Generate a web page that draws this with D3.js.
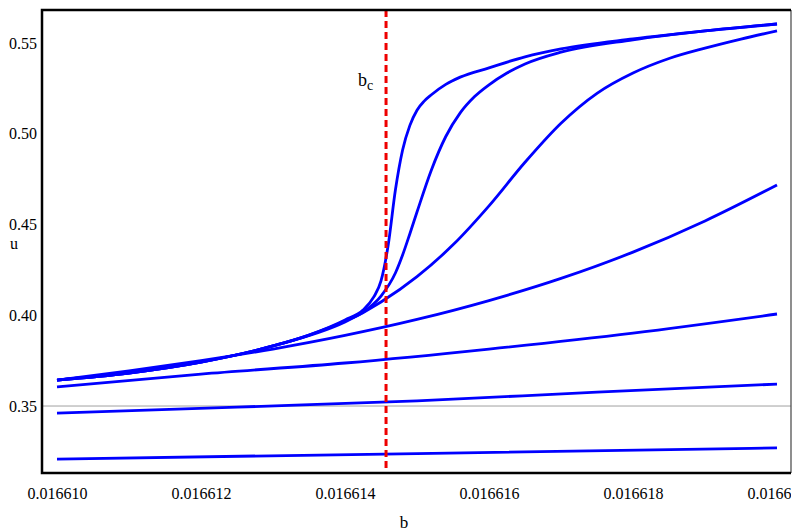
<!DOCTYPE html>
<html>
<head>
<meta charset="utf-8">
<script src="https://cdn.jsdelivr.net/npm/d3@7"></script>
<style>
  body { margin: 0; background: #fff; }
  text { font-family: "Liberation Serif", "Times New Roman", serif; }
</style>
</head>
<body>
<div id="chart"></div>
<script>
// u(b) curves as [b, u]
const curveA = [
  [0.016610, 0.3643], [0.016611, 0.3682], [0.016612, 0.3742], [0.016613, 0.3831],
  [0.0166135, 0.3891], [0.016614, 0.3974], [0.01661425, 0.4029], [0.0166144, 0.4101],
  [0.0166145, 0.4189], [0.0166146, 0.4387], [0.0166147, 0.4690], [0.0166148, 0.4911],
  [0.0166149, 0.5045], [0.016615, 0.5130], [0.0166151, 0.5180], [0.0166152, 0.5215],
  [0.0166154, 0.5272], [0.0166156, 0.5312], [0.016616, 0.5363], [0.0166165, 0.5424],
  [0.016617, 0.5468], [0.016618, 0.5523], [0.016619, 0.5567], [0.016620, 0.5605]
];
const curveB = [
  [0.016610, 0.3643], [0.016611, 0.3682], [0.016612, 0.3742], [0.016613, 0.3831],
  [0.0166135, 0.3891], [0.016614, 0.3968], [0.01661425, 0.4018], [0.0166145, 0.4106],
  [0.0166147, 0.4233], [0.0166148, 0.4332], [0.0166149, 0.4448], [0.016615, 0.4569],
  [0.0166152, 0.4801], [0.0166154, 0.4985], [0.0166156, 0.5115], [0.0166158, 0.5205],
  [0.016616, 0.5270], [0.01661625, 0.5335], [0.0166165, 0.5385], [0.016617, 0.5450],
  [0.016618, 0.5518], [0.016619, 0.5567], [0.016620, 0.5605]
];
const curveC = [
  [0.016610, 0.3643], [0.016611, 0.3682], [0.016612, 0.3742], [0.016613, 0.3831],
  [0.016614, 0.3963], [0.0166145, 0.4073], [0.016615, 0.4213], [0.0166155, 0.4388],
  [0.016616, 0.4603], [0.0166165, 0.4843], [0.016617, 0.5058], [0.0166175, 0.5223],
  [0.016618, 0.5335], [0.0166185, 0.5415], [0.016619, 0.5472], [0.0166195, 0.5522],
  [0.016620, 0.5567]
];
const curveD = [
  [0.016610, 0.3643], [0.016611, 0.3693], [0.016612, 0.3750], [0.016613, 0.3814],
  [0.016614, 0.3889], [0.016615, 0.3977], [0.016616, 0.4081], [0.016617, 0.4203],
  [0.016618, 0.4348], [0.016619, 0.4520], [0.016620, 0.4718]
];
const curveE = [
  [0.016610, 0.3605], [0.016612, 0.3676], [0.016614, 0.3737], [0.016616, 0.3814],
  [0.016618, 0.3902], [0.016620, 0.4007]
];
const curveF = [
  [0.016610, 0.3461], [0.0166125, 0.3494], [0.016615, 0.3528], [0.0166175, 0.3577],
  [0.016620, 0.3621]
];
const curveG = [
  [0.016610, 0.3208], [0.016615, 0.3238], [0.016620, 0.3269]
];
const curves = [curveA, curveB, curveC, curveD, curveE, curveF, curveG];

const bCritical = 0.01661457;
const xTicks = [0.016610, 0.016612, 0.016614, 0.016616, 0.016618, 0.016620];
const yTicks = [0.35, 0.40, 0.45, 0.50, 0.55];

const width = 793, height = 532;
const frameL = 42, frameR = 791, frameT = 10, frameB = 473;

const svg = d3.select("#chart").append("svg")
  .attr("width", width)
  .attr("height", height);

svg.append("defs").append("clipPath").attr("id", "labelclip")
  .append("rect").attr("x", 0).attr("y", 0).attr("width", frameR).attr("height", height);

const x = d3.scaleLinear().domain([0.0166097917, 0.0166201944]).range([frameL, frameR]);
const y = d3.scaleLinear().domain([0.3131, 0.5682]).range([frameB, frameT]);

// axis line at u = 0.35
svg.append("line")
  .attr("x1", frameL).attr("x2", frameR)
  .attr("y1", y(0.35)).attr("y2", y(0.35))
  .attr("stroke", "#a0a0a0").attr("stroke-width", 1);

const line = d3.line()
  .x(d => x(d[0]))
  .y(d => y(d[1]))
  .curve(d3.curveMonotoneX);

svg.append("g")
  .selectAll("path")
  .data(curves)
  .join("path")
  .attr("d", line)
  .attr("fill", "none")
  .attr("stroke", "#0000ff")
  .attr("stroke-width", 2.8)
  .attr("stroke-linecap", "butt");

// critical b
svg.append("line")
  .attr("x1", x(bCritical)).attr("x2", x(bCritical))
  .attr("y1", frameT).attr("y2", frameB)
  .attr("stroke", "#ee0000")
  .attr("stroke-width", 3)
  .attr("stroke-dasharray", "7,4");

const bc = svg.append("text")
  .attr("x", 358).attr("y", 86)
  .attr("font-size", 18);
bc.append("tspan").text("b");
bc.append("tspan").attr("font-size", 14).attr("dy", 4).text("c");

// frame
svg.append("line").attr("x1", frameR).attr("x2", frameR).attr("y1", frameT).attr("y2", frameB)
  .attr("stroke", "#444").attr("stroke-width", 1.2);
svg.append("path")
  .attr("d", `M${frameR},${frameT}H${frameL}V${frameB}H${frameR}`)
  .attr("fill", "none")
  .attr("stroke", "#000")
  .attr("stroke-width", 2.5);

// axes (labels only)
const xAxis = svg.append("g")
  .attr("clip-path", "url(#labelclip)")
  .append("g")
  .attr("transform", `translate(0,${frameB})`)
  .call(d3.axisBottom(x).tickValues(xTicks).tickSize(0).tickPadding(15).tickFormat(d3.format(".6f")));
const yAxis = svg.append("g")
  .attr("transform", `translate(${frameL},0)`)
  .call(d3.axisLeft(y).tickValues(yTicks).tickSize(0).tickPadding(5).tickFormat(d3.format(".2f")));
[xAxis, yAxis].forEach(g => {
  g.select(".domain").remove();
  g.selectAll("text")
    .attr("font-family", "'Liberation Serif', serif")
    .attr("font-size", 16)
    .attr("fill", "#000");
});

svg.append("text").attr("x", 404).attr("y", 528)
  .attr("text-anchor", "middle").attr("font-size", 17).text("b");
svg.append("text").attr("x", 14).attr("y", 249)
  .attr("text-anchor", "middle").attr("font-size", 16).text("u");
</script>
</body>
</html>
